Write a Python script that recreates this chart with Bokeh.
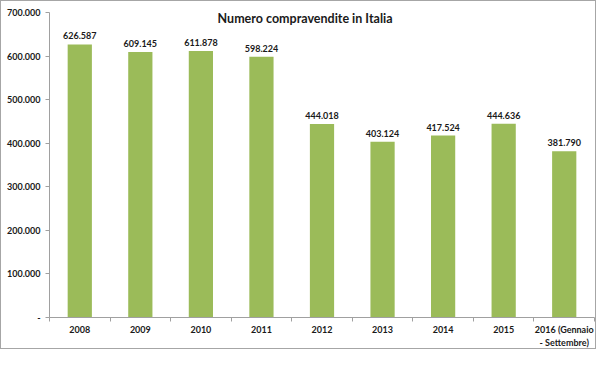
from bokeh.plotting import figure
from bokeh.models import (Range1d, FixedTicker, LinearAxis, CategoricalAxis,
                          ColumnDataSource, FactorRange, Label)
from bokeh.core.properties import value
from bokeh.embed import file_html
from bokeh.resources import INLINE

# ---- data ----
categories = ["2008", "2009", "2010", "2011", "2012", "2013", "2014", "2015",
              "2016 (Gennaio\n- Settembre)"]
sales = [626587, 609145, 611878, 598224, 444018, 403124, 417524, 444636, 381790]
y_ticks = [0, 100000, 200000, 300000, 400000, 500000, 600000, 700000]
y_tick_labels = ["-", "100.000", "200.000", "300.000", "400.000", "500.000",
                 "600.000", "700.000"]
title_text = "Numero compravendite in Italia"

FONT = "Lato"
AXIS_COLOR = "#a0a0a0"
BAR_COLOR = "#9BBB59"
TEXT_COLOR = "#1a1a1a"

labels = [f"{v:,}".replace(",", ".") for v in sales]
src = ColumnDataSource(dict(cat=categories, sales=sales, label=labels))

p = figure(width=596, height=349, x_range=FactorRange(*categories),
           y_range=Range1d(0, 700000), output_backend="svg",
           toolbar_location=None, x_axis_location=None, y_axis_location=None,
           min_border_left=48, min_border_right=3, min_border_top=11,
           min_border_bottom=0)
p.outline_line_color = None
p.background_fill_color = "white"
p.border_fill_color = "white"
p.grid.visible = False
p.styles = {"border": "1px solid #a6a6a6"}

p.vbar(x="cat", top="sales", width=0.4, source=src, fill_color=BAR_COLOR,
       line_color=None)

p.text(x="cat", y="sales", text="label", source=src, y_offset=-5,
       text_align="center", text_baseline="bottom", text_font=value(FONT),
       text_font_style="bold", text_font_size="9px", text_color=TEXT_COLOR)

# y axis
yax = LinearAxis(ticker=FixedTicker(ticks=y_ticks),
                 major_label_overrides={t: l for t, l in zip(y_ticks, y_tick_labels)})
yax.axis_line_color = AXIS_COLOR
yax.major_tick_line_color = AXIS_COLOR
yax.major_tick_in = 0
yax.major_tick_out = 4
yax.minor_tick_line_color = None
yax.major_label_text_font = FONT
yax.major_label_text_font_style = "bold"
yax.major_label_text_font_size = "9px"
yax.major_label_text_color = TEXT_COLOR
yax.major_label_standoff = 5
p.add_layout(yax, "left")

# x axis ticks between categories (synthetic category boundaries)
bounds = list(range(len(categories) + 1))
tax = LinearAxis(ticker=FixedTicker(ticks=bounds),
                 major_label_overrides={b: "" for b in bounds})
tax.axis_line_color = AXIS_COLOR
tax.major_tick_line_color = AXIS_COLOR
tax.major_tick_in = 0
tax.major_tick_out = 4
tax.minor_tick_line_color = None
tax.major_label_text_font_size = "1px"
tax.major_label_standoff = 0
p.add_layout(tax, "below")

# category labels
cax = CategoricalAxis()
cax.axis_line_color = None
cax.major_tick_line_color = None
cax.major_label_text_font = FONT
cax.major_label_text_font_style = "bold"
cax.major_label_text_font_size = "9px"
cax.major_label_text_color = TEXT_COLOR
cax.major_label_standoff = -4
p.add_layout(cax, "below")

p.add_layout(Label(x=4.22, y=686000, text=title_text, text_align="center",
                   text_baseline="middle", text_font=FONT,
                   text_font_style="bold", text_font_size="12.5px",
                   text_color=TEXT_COLOR))

open("out.html", "w").write(file_html(p, INLINE))
